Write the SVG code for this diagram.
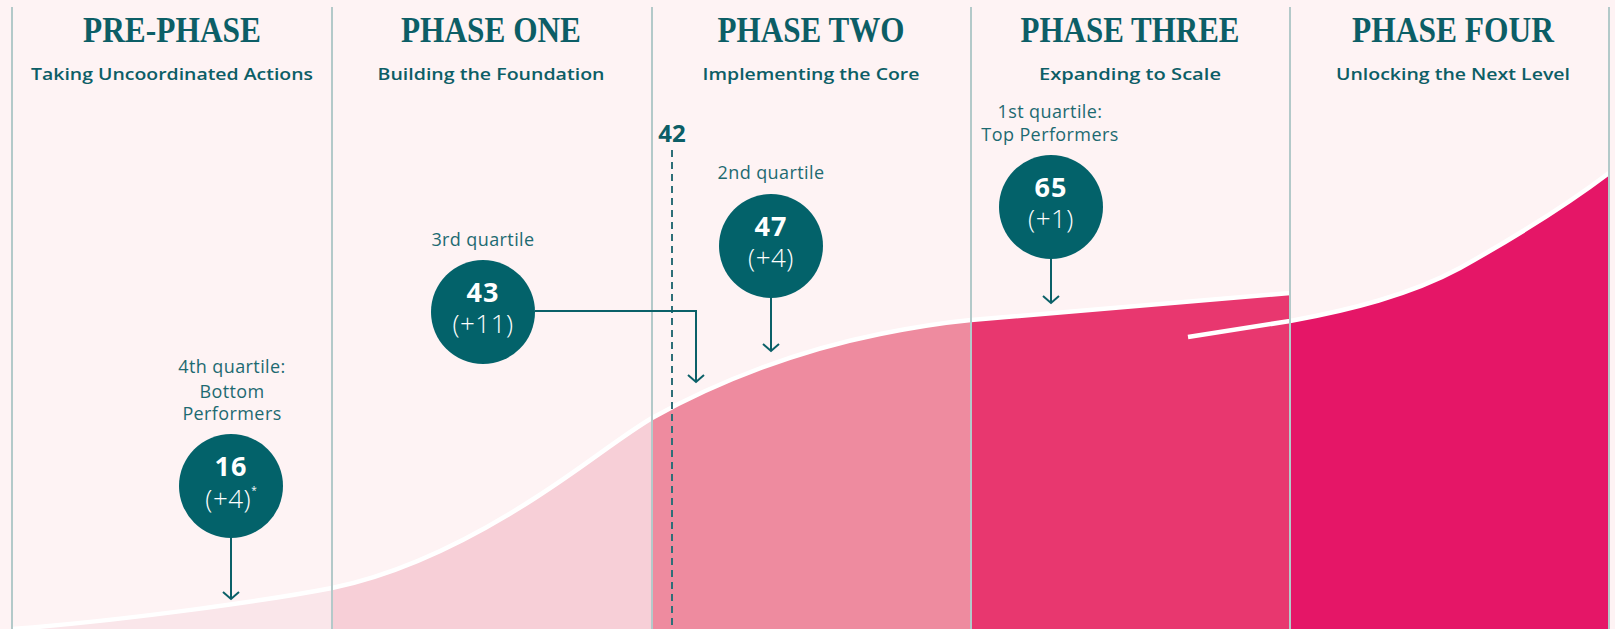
<svg xmlns="http://www.w3.org/2000/svg" width="1615" height="629" viewBox="0 0 1615 629">
<style>
.hdr{font-family:"Liberation Serif","DejaVu Serif",serif;font-weight:700;font-size:36px;fill:#0c5e66;text-anchor:middle}
.sub{font-family:"Open Sans","Noto Sans","Liberation Sans",sans-serif;font-weight:600;font-size:16.5px;fill:#0c5e66;text-anchor:middle}
.lbl{font-family:"Open Sans","Noto Sans","Liberation Sans",sans-serif;font-weight:400;font-size:18px;letter-spacing:0.4px;fill:#1d6a71;text-anchor:middle}
.val{font-family:"Open Sans","Noto Sans","Liberation Sans",sans-serif;fill:#ffffff;text-anchor:middle}
.num{font-weight:700;font-size:27px;letter-spacing:1px}
.chg{font-weight:300;font-size:26px;letter-spacing:0.5px}
.dot{fill:#03626a}
.vline{stroke:#b3c9c9;stroke-width:2}
.conn{stroke:#0b6068;stroke-width:2;fill:none;marker-end:url(#chev)}
.curve{fill:none;stroke:#ffffff;stroke-width:4.5}
</style>
<defs>
<marker id="chev" markerUnits="userSpaceOnUse" markerWidth="20" markerHeight="20" viewBox="-10 -10 20 20" refX="0" refY="0" orient="auto">
<path d="M-7,-8 L0,0 L-7,8" fill="none" stroke="#0b6068" stroke-width="2"/>
</marker>
<clipPath id="under">
<path d="M12,629 C130,620 270,600 332,588 C400,574 470,540 535,498 C585,466 620,437 652,418 C720,380 800,350 880,334 C920,326 950,322 971,320 L1290,293 L1290,629 Z"/>
</clipPath>
</defs>
<rect x="0" y="0" width="1615" height="629" fill="#fef3f4"/>
<g id="area-fills" clip-path="url(#under)">
<rect x="12" y="0" width="320" height="629" fill="#fae6ea"/>
<rect x="332" y="0" width="320" height="629" fill="#f7cfd7"/>
<rect x="652" y="0" width="319" height="629" fill="#ee8b9f"/>
<rect x="971" y="0" width="319" height="629" fill="#e8376f"/>
</g>
<path id="phase-four-fill" d="M1290,321 C1350,310 1410,295 1460,268 C1510,240 1560,210 1609,173 L1609,629 L1290,629 Z" fill="#e51667"/>
<path class="curve" d="M12,629 C130,620 270,600 332,588 C400,574 470,540 535,498 C585,466 620,437 652,418 C720,380 800,350 880,334 C920,326 950,322 971,320 L1290,293"/>
<path class="curve" d="M1188,337 L1290,321 C1350,310 1410,295 1460,268 C1510,240 1560,210 1609,173"/>
<g id="dividers">
<line class="vline" x1="12" y1="7" x2="12" y2="629"/>
<line class="vline" x1="332" y1="7" x2="332" y2="629"/>
<line class="vline" x1="652" y1="7" x2="652" y2="629"/>
<line class="vline" x1="971" y1="7" x2="971" y2="629"/>
<line class="vline" x1="1290" y1="7" x2="1290" y2="629"/>
<line class="vline" x1="1609" y1="7" x2="1609" y2="629"/>
</g>
<g id="marker-42">
<line x1="672" y1="150" x2="672" y2="629" stroke="#2e6f78" stroke-width="2" stroke-dasharray="7 5"/>
<text x="672" y="142" font-family="'Open Sans','Noto Sans','Liberation Sans',sans-serif" font-weight="700" font-size="24" fill="#0c5e66" text-anchor="middle">42</text>
</g>
<g id="phase-pre">
<text class="hdr" x="172" y="42" textLength="178" lengthAdjust="spacingAndGlyphs">PRE-PHASE</text>
<text class="sub" x="172" y="80" textLength="282" lengthAdjust="spacingAndGlyphs">Taking Uncoordinated Actions</text>
</g>
<g id="phase-one">
<text class="hdr" x="491" y="42" textLength="180" lengthAdjust="spacingAndGlyphs">PHASE ONE</text>
<text class="sub" x="491" y="80" textLength="227" lengthAdjust="spacingAndGlyphs">Building the Foundation</text>
</g>
<g id="phase-two">
<text class="hdr" x="811" y="42" textLength="187" lengthAdjust="spacingAndGlyphs">PHASE TWO</text>
<text class="sub" x="811" y="80" textLength="217" lengthAdjust="spacingAndGlyphs">Implementing the Core</text>
</g>
<g id="phase-three">
<text class="hdr" x="1130" y="42" textLength="219" lengthAdjust="spacingAndGlyphs">PHASE THREE</text>
<text class="sub" x="1130" y="80" textLength="182" lengthAdjust="spacingAndGlyphs">Expanding to Scale</text>
</g>
<g id="phase-four">
<text class="hdr" x="1453" y="42" textLength="202" lengthAdjust="spacingAndGlyphs">PHASE FOUR</text>
<text class="sub" x="1453" y="80" textLength="234" lengthAdjust="spacingAndGlyphs">Unlocking the Next Level</text>
</g>
<g id="connectors">
<path class="conn" d="M231,538 L231,599"/>
<path class="conn" d="M535,311 L696,311 L696,382"/>
<path class="conn" d="M771,298 L771,351"/>
<path class="conn" d="M1051,259 L1051,303"/>
</g>
<g id="node-4th">
<text class="lbl" x="232" y="373">4th quartile:<tspan x="232" dy="25">Bottom</tspan><tspan x="232" dy="22">Performers</tspan></text>
<circle class="dot" cx="231" cy="486" r="52"/>
<text class="val" x="231" y="476"><tspan class="num">16</tspan><tspan class="chg" x="231" dy="32">(+4)</tspan><tspan font-size="10" dy="-14">*</tspan></text>
</g>
<g id="node-3rd">
<text class="lbl" x="483" y="246">3rd quartile</text>
<circle class="dot" cx="483" cy="312" r="52"/>
<text class="val" x="483" y="302"><tspan class="num">43</tspan><tspan class="chg" x="483" dy="31">(+11)</tspan></text>
</g>
<g id="node-2nd">
<text class="lbl" x="771" y="179">2nd quartile</text>
<circle class="dot" cx="771" cy="246" r="52"/>
<text class="val" x="771" y="236"><tspan class="num">47</tspan><tspan class="chg" x="771" dy="31">(+4)</tspan></text>
</g>
<g id="node-1st">
<text class="lbl" x="1050" y="118">1st quartile:<tspan x="1050" dy="23">Top Performers</tspan></text>
<circle class="dot" cx="1051" cy="207" r="52"/>
<text class="val" x="1051" y="197"><tspan class="num">65</tspan><tspan class="chg" x="1051" dy="31">(+1)</tspan></text>
</g>
</svg>
